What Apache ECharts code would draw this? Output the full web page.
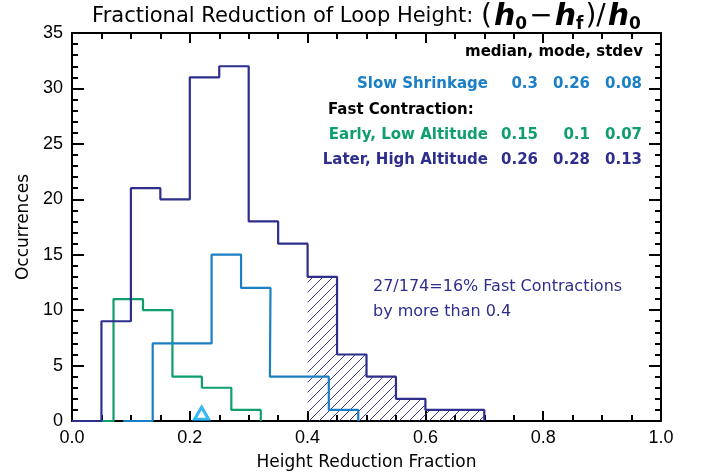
<!DOCTYPE html>
<html>
<head>
<meta charset="utf-8">
<script src="https://cdn.jsdelivr.net/npm/echarts@6/dist/echarts.min.js"></script>
<style>html,body{margin:0;padding:0;background:#fff;}#c{width:704px;height:476px;}</style>
</head>
<body>
<div id="c"></div>
<script>
// ---- data ----
const binWidth = 0.05;
// Later, High Altitude (fast contraction)
const laterBinStarts = [0.00,0.05,0.10,0.15,0.20,0.25,0.30,0.35,0.40,0.45,0.50,0.55,0.60,0.65];
const laterCounts    = [0,   9,   21,  20,  31,  32,  18,  16,  13,  6,   4,   2,   1,   1];
// Slow Shrinkage
const slowBinStarts = [0.087,0.137,0.187,0.237,0.287,0.336,0.386,0.436];
const slowCounts    = [0,    7,    7,    15,   12,   4,    4,    1];
// Early, Low Altitude (fast contraction)
const earlyBinStarts = [0.0205,0.0705,0.1205,0.1705,0.2205,0.2705];
const earlyCounts    = [0,     11,    10,    4,     3,     1];
// hatched region threshold
const hatchFrom = 0.4;
// triangle marker
const markerX = [0.22];
const markerY = [0.7];
// ticks
const xTicks = [0.0,0.2,0.4,0.6,0.8,1.0];
const yTicks = [0,5,10,15,20,25,30,35];
// stats table
const statHeader = 'median, mode, stdev';
const statRows = [
  {label:'Slow Shrinkage', vals:['0.3','0.26','0.08'], color:'#1a7fc4'},
  {label:'Early, Low Altitude', vals:['0.15','0.1','0.07'], color:'#0f9e6e'},
  {label:'Later, High Altitude', vals:['0.26','0.28','0.13'], color:'#2e2e8c'}
];

const C_DARK = '#2e2e8c', C_SLOW = '#1a7fc4', C_EARLY = '#0f9e6e', C_TRI = '#00a6f2', C_HATCH = '#3c3ca0';

function stepPoints(starts, counts, w) {
  const pts = [[starts[0], 0]];
  for (let i = 0; i < starts.length; i++) {
    pts.push([starts[i], counts[i]]);
    pts.push([+(starts[i] + w).toFixed(4), counts[i]]);
  }
  pts.push([+(starts[starts.length-1] + w).toFixed(4), 0]);
  return pts;
}
// hatched bins: [x0, x1, count]
const hatchBins = [];
laterBinStarts.forEach((s,i)=>{ if (s >= hatchFrom - 1e-9) hatchBins.push([s, +(s+binWidth).toFixed(4), laterCounts[i]]); });

const HATCH_SPACING = 10;
function renderHatch(params, api) {
  const p0 = api.coord([api.value(0), 0]);
  const p1 = api.coord([api.value(1), api.value(2)]);
  const xa = Math.min(p0[0], p1[0]), xb = Math.max(p0[0], p1[0]);
  const ya = Math.min(p0[1], p1[1]), yb = Math.max(p0[1], p1[1]);
  const children = [];
  const cMin = Math.floor((xa + ya) / HATCH_SPACING) * HATCH_SPACING;
  for (let c = cMin; c <= xb + yb; c += HATCH_SPACING) {
    const xs = Math.max(xa, c - yb), xe = Math.min(xb, c - ya);
    if (xe - xs > 0.3) {
      children.push({type:'line', shape:{x1:xs, y1:c - xs, x2:xe, y2:c - xe},
        style:{stroke:C_HATCH, lineWidth:1}});
    }
  }
  return {type:'group', children};
}

const FONT = 'Liberation Sans, Arial, sans-serif';
const DFONT = '"DejaVu Sans", sans-serif';
const chart = echarts.init(document.getElementById('c'), null, {renderer:'canvas'});

const axisCommon = {
  axisLine:{show:true, onZero:false, lineStyle:{color:'#000', width:2}},
  splitLine:{show:false},
};

const graphics = [];
// title
graphics.push({
  type:'text', x:367, y:17, z:100,
  style:{
    text:'{a|Fractional Reduction of Loop Height: }{p|(}{i|h}{s|0}{p|−}{i|h}{s|f}{p|)/}{i|h}{s|0}',
    align:'center', verticalAlign:'middle',
    rich:{
      a:{fontFamily:DFONT, fontSize:21, fill:'#000', lineHeight:32},
      p:{fontFamily:DFONT, fontSize:28, fill:'#000', lineHeight:32, padding:[0,1,0,1]},
      i:{fontFamily:DFONT, fontSize:30, fontStyle:'italic', fontWeight:'bold', fill:'#000', lineHeight:32, padding:[0,0,0,1]},
      s:{fontFamily:DFONT, fontSize:17, fontWeight:'bold', fill:'#000', lineHeight:17, verticalAlign:'top', padding:[15,1,0,0]}
    }
  }
});
// stats header
const BF = 'bold 15px ' + DFONT;
graphics.push({type:'text', x:643, y:52, style:{text:statHeader, align:'right', verticalAlign:'middle', font:BF, fill:'#000'}});
const rowY = [84, 135, 160];
const colRight = [538, 590, 642];
statRows.forEach((r, ri) => {
  graphics.push({type:'text', x:488, y:rowY[ri], style:{text:r.label, align:'right', verticalAlign:'middle', font:BF, fill:r.color}});
  r.vals.forEach((v, vi) => {
    graphics.push({type:'text', x:colRight[vi], y:rowY[ri], style:{text:v, align:'right', verticalAlign:'middle', font:BF, fill:r.color}});
  });
});
graphics.push({type:'text', x:328, y:110, style:{text:'Fast Contraction:', align:'left', verticalAlign:'middle', font:BF, fill:'#000'}});
graphics.push({type:'text', x:373, y:287, style:{text:'27/174=16% Fast Contractions', align:'left', verticalAlign:'middle', font:'16px '+DFONT, fill:C_DARK}});
graphics.push({type:'text', x:373, y:312, style:{text:'by more than 0.4', align:'left', verticalAlign:'middle', font:'16px '+DFONT, fill:C_DARK}});

const option = {
  animation:false,
  backgroundColor:'#fff',
  grid:{left:72, right:43, top:33, bottom:55, containLabel:false, outerBoundsMode:'none'},
  xAxis:[
    Object.assign({}, axisCommon, {
      type:'value', min:0, max:1, interval:0.2, position:'bottom',
      axisTick:{show:true, inside:true, length:10, lineStyle:{color:'#000', width:2}},
      minorTick:{show:true, splitNumber:4, length:6, lineStyle:{color:'#000', width:2}},
      axisLabel:{show:true, margin:8, fontSize:18, color:'#000', fontFamily:FONT, formatter:v=>xTicks.includes(+v.toFixed(1)) ? v.toFixed(1) : ''},
      name:'Height Reduction Fraction', nameLocation:'middle', nameGap:33,
      nameTextStyle:{fontSize:17, color:'#000', fontFamily:DFONT}
    }),
    Object.assign({}, axisCommon, {
      type:'value', min:0, max:1, interval:0.2, position:'top',
      axisTick:{show:true, inside:true, length:10, lineStyle:{color:'#000', width:2}},
      minorTick:{show:true, splitNumber:4, length:6, lineStyle:{color:'#000', width:2}},
      axisLabel:{show:false}
    })
  ],
  yAxis:[
    Object.assign({}, axisCommon, {
      type:'value', min:0, max:35, interval:5, position:'left',
      axisTick:{show:true, inside:true, length:12, lineStyle:{color:'#000', width:2}},
      minorTick:{show:true, splitNumber:5, length:6, lineStyle:{color:'#000', width:2}},
      axisLabel:{show:true, margin:9, fontSize:18, color:'#000', fontFamily:FONT, formatter:v=>yTicks.includes(v) ? String(v) : ''},
      name:'Occurrences', nameLocation:'middle', nameGap:37,
      nameTextStyle:{fontSize:17, color:'#000', fontFamily:DFONT}
    }),
    Object.assign({}, axisCommon, {
      type:'value', min:0, max:35, interval:5, position:'right',
      axisTick:{show:true, inside:true, length:12, lineStyle:{color:'#000', width:2}},
      minorTick:{show:true, splitNumber:5, length:6, lineStyle:{color:'#000', width:2}},
      axisLabel:{show:false}
    })
  ],
  series:[
    {type:'custom', name:'hatch', renderItem:renderHatch, data:hatchBins, encode:{x:[0,1], y:2}, z:1, silent:true},
    {type:'line', name:'Early, Low Altitude', data:stepPoints(earlyBinStarts, earlyCounts, binWidth),
     symbol:'none', lineStyle:{color:C_EARLY, width:2.2}, z:2},
    {type:'line', name:'Slow Shrinkage', data:stepPoints(slowBinStarts, slowCounts, binWidth),
     symbol:'none', lineStyle:{color:C_SLOW, width:2.2}, z:3},
    {type:'line', name:'Later, High Altitude', data:stepPoints(laterBinStarts, laterCounts, binWidth),
     symbol:'none', lineStyle:{color:C_DARK, width:2.2}, z:4},
    {type:'scatter', name:'marker', data:markerX.map((x,i)=>[x, markerY[i]]), symbol:'triangle', symbolSize:[14,12],
     itemStyle:{color:'#fff', borderColor:C_TRI, borderWidth:3}, z:5}
  ],
  graphic:graphics
};
chart.setOption(option);
</script>
</body>
</html>
